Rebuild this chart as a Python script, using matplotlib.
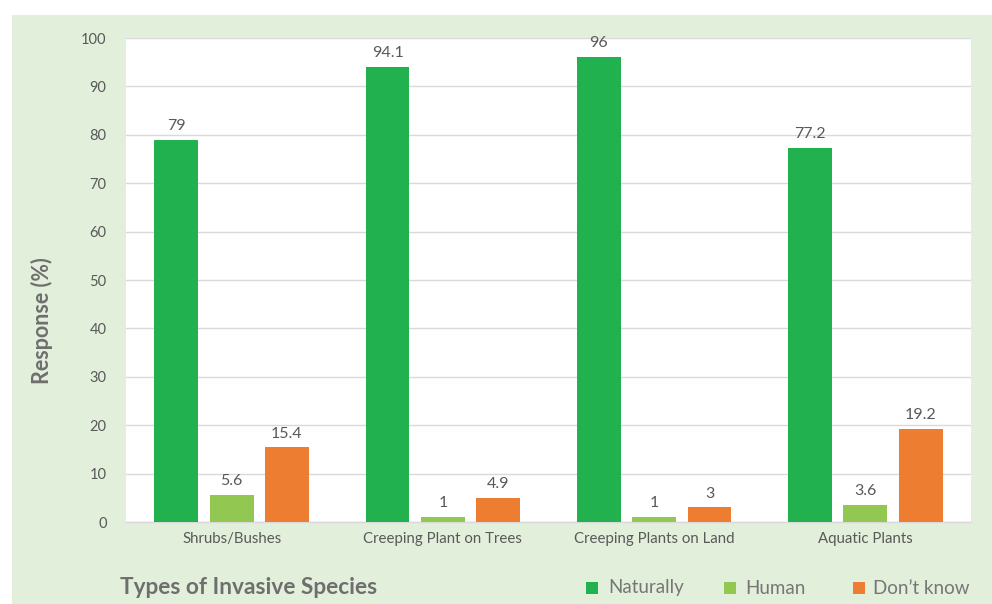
import matplotlib
matplotlib.use("Agg")
import matplotlib.pyplot as plt
from matplotlib.patches import Rectangle
import numpy as np

categories = ["Shrubs/Bushes", "Creeping Plant on Trees", "Creeping Plants on Land", "Aquatic Plants"]
series_names = ["Naturally", "Human", "Don\u2019t know"]
naturally = [79, 94.1, 96, 77.2]
human = [5.6, 1, 1, 3.6]
dont_know = [15.4, 4.9, 3, 19.2]
y_ticks = [0, 10, 20, 30, 40, 50, 60, 70, 80, 90, 100]

colors = ["#21B14F", "#92C852", "#ED7D31"]
text_gray = "#595959"
title_gray = "#6E6E6E"
bg_green = "#E2EFDA"
grid_gray = "#D9D9D9"

plt.rcParams["font.family"] = ["Lato", "DejaVu Sans"]

W, H = 992, 604
fig = plt.figure(figsize=(W / 100, H / 100), dpi=100, facecolor="white")

# light green panel behind the chart
fig.patches.append(Rectangle((12 / W, 0), 1 - 12 / W, 1 - 15 / H,
                             transform=fig.transFigure, facecolor=bg_green,
                             edgecolor="none", zorder=-10))

left, right, top, bottom = 126, 971, 38, 522
ax = fig.add_axes([left / W, 1 - bottom / H, (right - left) / W, (bottom - top) / H])
ax.set_facecolor("white")

x = np.arange(len(categories))
bw = 0.208
step = 0.262
series = [naturally, human, dont_know]
for i, (vals, name, col) in enumerate(zip(series, series_names, colors)):
    bars = ax.bar(x + (i - 1) * step, vals, width=bw, color=col, label=name, zorder=3)
    ax.bar_label(bars, labels=[f"{v:g}" for v in vals], padding=5,
                 fontsize=11.5, color=text_gray)

ax.set_xlim(-0.5, len(categories) - 0.5)
ax.set_ylim(0, 100)
ax.set_yticks(y_ticks)
ax.set_xticks(x)
ax.set_xticklabels(categories)
ax.tick_params(axis="y", length=0, pad=14, labelsize=10.5, labelcolor=text_gray)
ax.tick_params(axis="x", length=0, pad=7, labelsize=10.8, labelcolor=text_gray)
ax.grid(axis="y", color=grid_gray, linewidth=1, zorder=0)
for s in ["top", "right", "left"]:
    ax.spines[s].set_visible(False)
ax.spines["bottom"].set_color(grid_gray)
ax.spines["bottom"].set_linewidth(1)

fig.text(42 / W, 1 - 321 / H, "Response (%)", rotation=90, ha="center", va="center",
         fontsize=15.5, fontweight="bold", color=title_gray)
fig.text(120 / W, 1 - 587 / H, "Types of Invasive Species", ha="left", va="center",
         fontsize=16.3, fontweight="bold", color=title_gray)

# legend: coloured squares followed by series names
legend_sq = [586, 724, 853]
legend_txt = [608, 745, 873]
sq = 12
for sx, tx, col, name in zip(legend_sq, legend_txt, colors, series_names):
    fig.patches.append(Rectangle((sx / W, 1 - 594 / H), sq / W, sq / H,
                                 transform=fig.transFigure, facecolor=col,
                                 edgecolor="none"))
    fig.text(tx / W, 1 - 588 / H, name, ha="left", va="center",
             fontsize=13.5, color="#767676")

fig.savefig("out.png", dpi=100, facecolor="white")
